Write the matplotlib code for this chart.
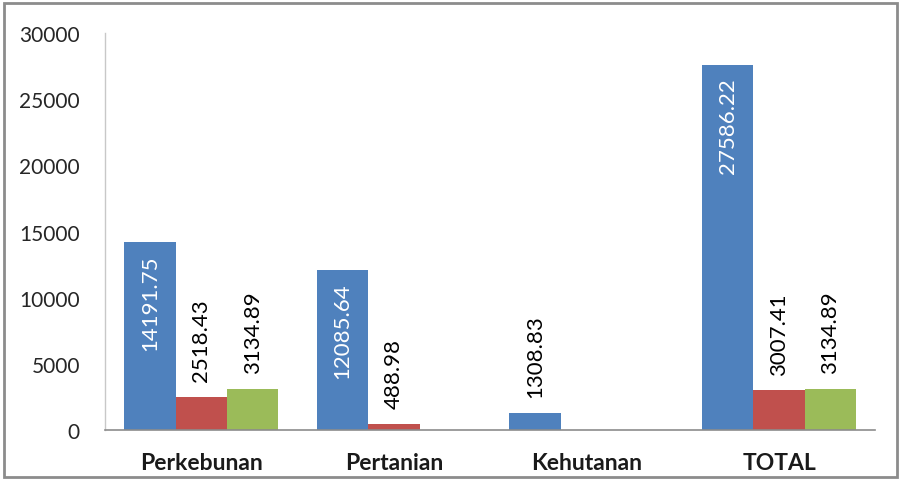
import matplotlib.pyplot as plt
import numpy as np
from matplotlib.patches import Rectangle

# Data
categories = ["Perkebunan", "Pertanian", "Kehutanan", "TOTAL"]
series_blue = [14191.75, 12085.64, 1308.83, 27586.22]
series_red = [2518.43, 488.98, 0, 3007.41]
series_green = [3134.89, 0, 0, 3134.89]
yticks = [0, 5000, 10000, 15000, 20000, 25000, 30000]

colors = ["#4F81BD", "#C0504D", "#9BBB59"]
plt.rcParams['font.family'] = ['Lato', 'DejaVu Sans']

fig = plt.figure(figsize=(9.02, 4.81), dpi=100)
ax = fig.add_axes([0.1164, 0.104, 0.854, 0.825])

x = np.arange(len(categories))
w = 0.8 / 3
series = [series_blue, series_red, series_green]

for i, (vals, c) in enumerate(zip(series, colors)):
    pos = x + (i - 1) * w
    bars = ax.bar(pos, vals, width=w, color=c, edgecolor='none', zorder=2)
    for b, v in zip(bars, vals):
        if v <= 0:
            continue
        cx = b.get_x() + b.get_width() / 2
        label = f"{v:.2f}"
        if v > 10000:
            # big bars: white label inside the top end
            ax.annotate(label, (cx, v), xytext=(0, -9), textcoords='offset points',
                        rotation=90, ha='center', va='top', color='white', fontsize=16)
        else:
            ax.annotate(label, (cx, v), xytext=(0, 11), textcoords='offset points',
                        rotation=90, ha='center', va='bottom', color='black', fontsize=16)

ax.set_xlim(-0.5, 3.5)
ax.set_ylim(0, 30000)
ax.set_yticks(yticks)
ax.set_yticklabels([str(t) for t in yticks], fontsize=15, color='#262626')
ax.set_xticks(x)
ax.set_xticklabels(categories, fontsize=16.5, fontweight='bold', color='#1a1a1a')
ax.tick_params(axis='both', length=0)
ax.tick_params(axis='y', pad=18)
ax.tick_params(axis='x', pad=16)

for s in ['top', 'right']:
    ax.spines[s].set_visible(False)
ax.spines['left'].set_color('#c8c8c8')
ax.spines['bottom'].set_color('#8c8c8c')
ax.spines['left'].set_linewidth(1)
ax.spines['bottom'].set_linewidth(1.2)

# outer frame
fig.patches.append(Rectangle((0.004, 0.006), 0.991, 0.985, transform=fig.transFigure,
                             fill=False, edgecolor='#8c8c8c', linewidth=2))

fig.savefig('out.png', dpi=100)
